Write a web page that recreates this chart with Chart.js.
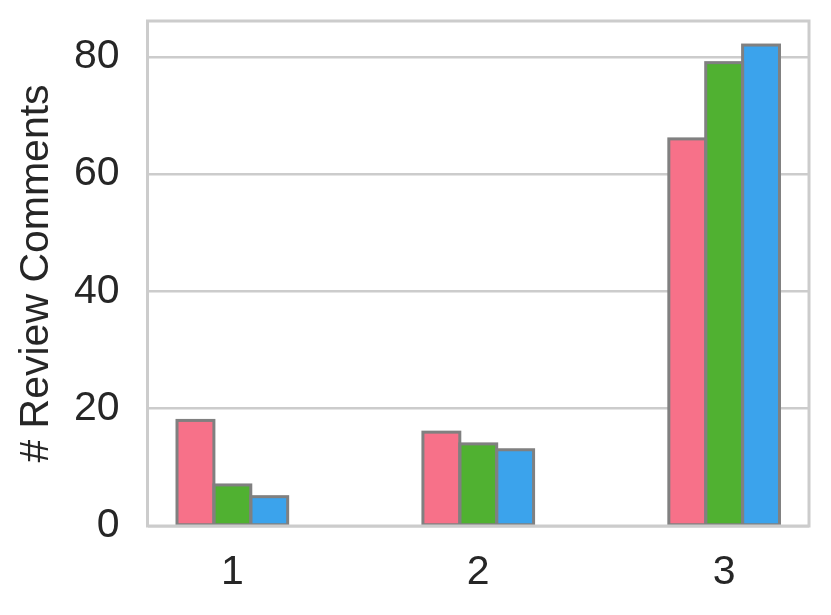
<!DOCTYPE html>
<html>
<head>
<meta charset="utf-8">
<script src="https://cdn.jsdelivr.net/npm/chart.js@4"></script>
<style>
  html, body { margin: 0; padding: 0; background: #fff; }
  #wrap { width: 831px; height: 615px; }
</style>
</head>
<body>
<div id="wrap"><canvas id="chart"></canvas></div>
<script>
const groups = [1, 2, 3];
const seriesA = [18, 16, 66];
const seriesB = [7, 14, 79];
const seriesC = [5, 13, 82];
const yTicks = [0, 20, 40, 60, 80];
const colors = ['#f77189', '#50b131', '#3ba3ec'];

const textColor = '#262626';
const font = { family: "'Liberation Sans', Arial, sans-serif", size: 41 };

function toPoints(values) {
    return values.map((v, i) => ({ x: groups[i], y: v }));
}

// bar outlines centred on the bar edges (matplotlib style), then the light frame on top
const outlines = {
    id: 'outlines',
    afterDatasetsDraw(chart) {
        const { ctx, chartArea: a } = chart;
        ctx.save();
        ctx.strokeStyle = '#808080';
        ctx.lineWidth = 3;
        chart.data.datasets.forEach((ds, i) => {
            chart.getDatasetMeta(i).data.forEach(bar => {
                const { x, y, base, width } = bar.getProps(['x', 'y', 'base', 'width'], true);
                ctx.strokeRect(x - width / 2, y, width, base - y);
            });
        });
        ctx.strokeStyle = '#cccccc';
        ctx.lineWidth = 3;
        ctx.strokeRect(a.left, a.top, a.right - a.left, a.bottom - a.top);
        ctx.restore();
    }
};

const ctx = document.getElementById('chart');
new Chart(ctx, {
    type: 'bar',
    data: {
        datasets: [seriesA, seriesB, seriesC].map((s, i) => ({
            label: 'Series ' + (i + 1),
            data: toPoints(s),
            backgroundColor: colors[i],
            borderWidth: 0,
            categoryPercentage: 0.45,
            barPercentage: 1
        }))
    },
    options: {
        responsive: true,
        maintainAspectRatio: false,
        animation: false,
        layout: { padding: { top: 21, right: 22, bottom: 0, left: 0 } },
        plugins: { legend: { display: false }, tooltip: { enabled: false } },
        scales: {
            x: {
                type: 'linear',
                offset: false,
                min: 0.655,
                max: 3.345,
                grid: { display: false, offset: false },
                border: { display: false },
                ticks: { color: textColor, font: font, padding: 14 },
                afterBuildTicks: scale => { scale.ticks = groups.map(v => ({ value: v })); },
                afterFit: scale => {
                    scale.height = 89;
                    scale.paddingLeft = 0;
                    scale.paddingRight = 0;
                }
            },
            y: {
                min: 0,
                max: 86.1,
                grid: { color: '#cccccc', lineWidth: 2.5, drawTicks: false },
                border: { display: false },
                ticks: { color: textColor, font: font, padding: 28 },
                afterBuildTicks: scale => { scale.ticks = yTicks.map(v => ({ value: v })); },
                afterFit: scale => {
                    scale.width = 147.5;
                    scale.paddingTop = 0;
                    scale.paddingBottom = 0;
                },
                title: {
                    display: true,
                    text: '# Review Comments',
                    color: textColor,
                    font: font,
                    padding: { top: 12, bottom: 0 }
                }
            }
        }
    },
    plugins: [outlines]
});
</script>
</body>
</html>
